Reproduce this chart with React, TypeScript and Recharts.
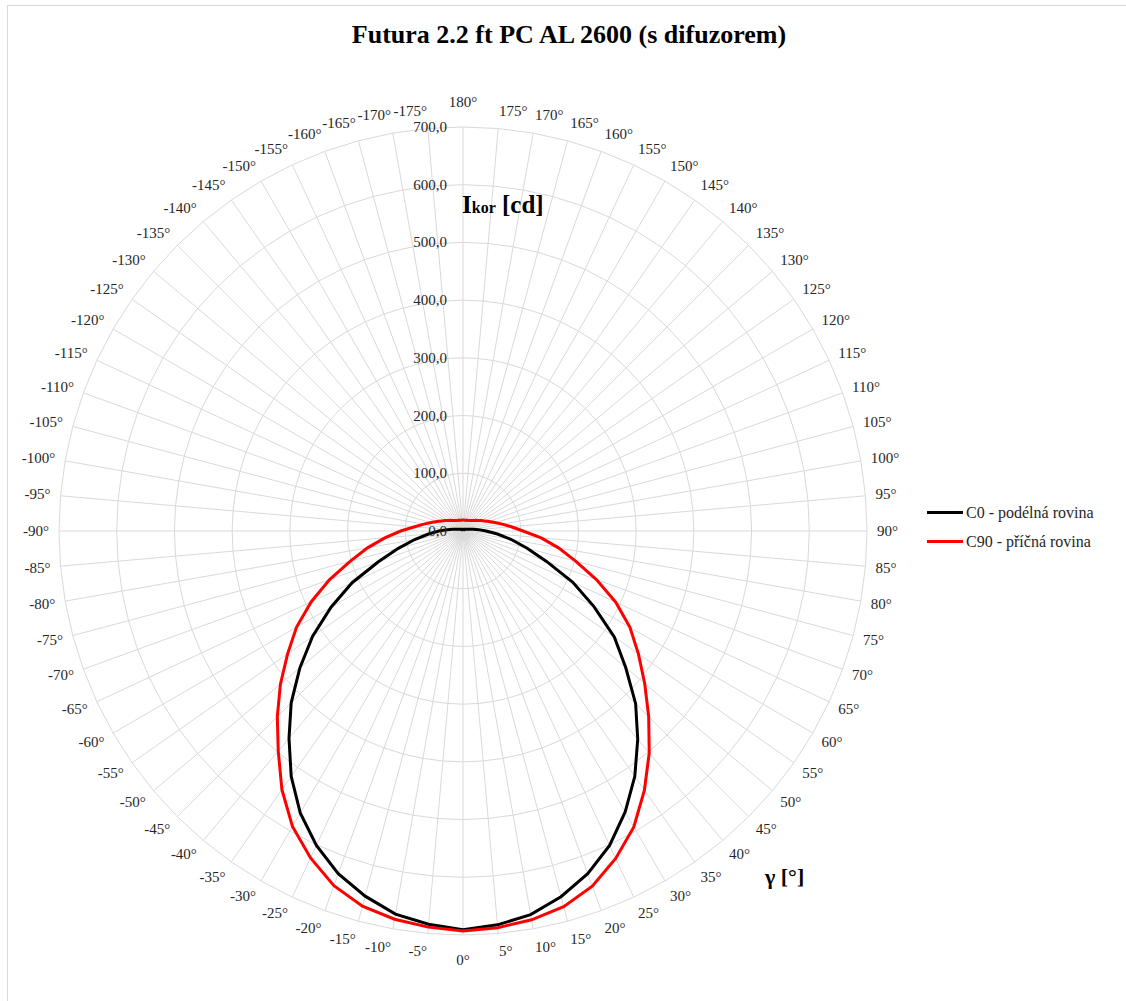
import { RadarChart, Radar, PolarGrid, PolarAngleAxis, PolarRadiusAxis, Legend } from 'recharts'

const FONT = '"Liberation Serif", "Times New Roman", serif'
const CX = 463
const CY = 531
const R = 404
// gamma 0° sits at the bottom of the diagram
const LABEL_START = -90
// Radar puts the first category one step after startAngle, so start one step earlier
const CHART_START = -95

// gamma angles, clockwise on paper from the bottom: 0..180 then -175..-5
const angles = [
  '0°', '5°', '10°', '15°', '20°', '25°', '30°', '35°', '40°', '45°', '50°', '55°', '60°', '65°', '70°', '75°', '80°', '85°',
  '90°', '95°', '100°', '105°', '110°', '115°', '120°', '125°', '130°', '135°', '140°', '145°', '150°', '155°', '160°', '165°',
  '170°', '175°', '180°', '-175°', '-170°', '-165°', '-160°', '-155°', '-150°', '-145°', '-140°', '-135°', '-130°', '-125°',
  '-120°', '-115°', '-110°', '-105°', '-100°', '-95°', '-90°', '-85°', '-80°', '-75°', '-70°', '-65°', '-60°', '-55°', '-50°',
  '-45°', '-40°', '-35°', '-30°', '-25°', '-20°', '-15°', '-10°', '-5°',
]

// C0 - podélná rovina [cd]
const c0 = [
  691, 685, 675, 656, 632, 601, 562, 519, 471, 423, 368, 320, 262, 210, 154, 115, 85, 60,
  40, 27, 18, 12, 9, 7, 6, 5, 4, 4, 3, 3, 3, 3, 3, 3,
  3, 3, 3, 3, 3, 3, 3, 3, 3, 3, 3, 4, 4, 5,
  6, 7, 9, 12, 18, 27, 42, 60, 85, 116, 156, 212, 264, 318, 369,
  421, 469, 519, 564, 601, 632, 655, 674, 684,
]

// C90 - příčná rovina [cd]
const c90 = [
  693, 690, 684, 674, 655, 626, 592, 548, 502, 455, 411, 371, 334, 292, 246, 202, 168, 136,
  104, 84, 69, 57, 48, 41, 36, 32, 29, 26, 24, 22, 21, 20, 20, 19,
  19, 19, 19, 19, 19, 19, 20, 20, 21, 22, 24, 26, 29, 32,
  36, 41, 48, 57, 69, 84, 108, 136, 168, 202, 246, 290, 333, 371, 413,
  455, 498, 547, 591, 625, 654, 673, 683, 689,
]

const radiusTicks = [0, 100, 200, 300, 400, 500, 600, 700]

const data = angles.map((a, i) => ({ angle: a, c0: c0[i], c90: c90[i] }))

const fmt = (v: number) => v.toFixed(1).replace('.', ',')

const AngleTick = (props: any) => {
  const { index, payload } = props
  const deg = LABEL_START + (index * 360) / angles.length
  const ux = Math.cos((deg * Math.PI) / 180)
  const uy = -Math.sin((deg * Math.PI) / 180)
  const anchor = ux > 0.01 ? 'start' : ux < -0.01 ? 'end' : 'middle'
  const extra = anchor === 'middle' ? 7 : 0
  const px = CX + ux * (R + 10)
  const py = CY + uy * (R + 10 + 8 + extra)
  return (
    <text x={px} y={py} textAnchor={anchor} dominantBaseline="central" fontFamily={FONT} fontSize={15} fill="#262626">
      {payload.value}
    </text>
  )
}

const RadiusTick = (props: any) => {
  const { x, y, payload } = props
  return (
    <text x={x - 16} y={y} textAnchor="end" dominantBaseline="central" fontFamily={FONT} fontSize={15} fill="#262626">
      {fmt(payload.value)}
    </text>
  )
}

const LegendContent = (props: any) => {
  const { payload = [] } = props
  return (
    <div style={{ fontFamily: FONT, fontSize: 16, color: '#262626' }}>
      {payload.map((p: any) => (
        <div key={p.value} style={{ display: 'flex', alignItems: 'center', height: 29 }}>
          <span style={{ display: 'inline-block', width: 36, height: 3, background: p.color, marginRight: 3 }} />
          <span>{p.value}</span>
        </div>
      ))}
    </div>
  )
}

export default function App() {
  return (
    <div style={{ position: 'absolute', left: 0, top: 0, width: 1126, height: 1001, background: '#fff', overflow: 'hidden' }}>
      <RadarChart
        width={1126}
        height={1001}
        data={data}
        cx={CX}
        cy={CY}
        outerRadius={R}
        startAngle={CHART_START}
        endAngle={CHART_START + 360}
        margin={{ top: 0, right: 0, bottom: 0, left: 0 }}
      >
        <PolarGrid gridType="polygon" stroke="#d9d9d9" />
        <PolarAngleAxis dataKey="angle" tick={AngleTick} tickLine={false} axisLine={false} />
        <PolarRadiusAxis
          angle={90}
          domain={[0, 700]}
          ticks={radiusTicks}
          tick={RadiusTick}
          axisLine={false}
          tickLine={false}
        />
        <Radar
          name="C0 - podélná rovina"
          dataKey="c0"
          stroke="#000000"
          strokeWidth={3}
          fill="none"
          fillOpacity={0}
          dot={false}
          isAnimationActive={false}
        />
        <Radar
          name="C90 - příčná rovina"
          dataKey="c90"
          stroke="#ff0000"
          strokeWidth={3}
          fill="none"
          fillOpacity={0}
          dot={false}
          isAnimationActive={false}
        />
        <Legend
          layout="vertical"
          content={LegendContent}
          wrapperStyle={{ position: 'absolute', left: 927, top: 498, width: 200 }}
        />
      </RadarChart>
      <svg width={1126} height={1001} style={{ position: 'absolute', left: 0, top: 0, pointerEvents: 'none' }}>
        <line x1={7.5} y1={5} x2={7.5} y2={1001} stroke="#d9d9d9" />
        <line x1={7} y1={5.5} x2={1126} y2={5.5} stroke="#d9d9d9" />
        <text x={569} y={43} textAnchor="middle" fontFamily={FONT} fontSize={26} fontWeight="bold" fill="#000">
          Futura 2.2 ft PC AL 2600 (s difuzorem)
        </text>
        <text x={462} y={213} fontFamily={FONT} fontSize={25} fontWeight="bold" fill="#000">
          I<tspan fontSize={16}>kor</tspan> [cd]
        </text>
        <text x={765} y={884} fontFamily={FONT} fontSize={22} fontWeight="bold" fill="#000">
          γ [°]
        </text>
      </svg>
    </div>
  )
}
